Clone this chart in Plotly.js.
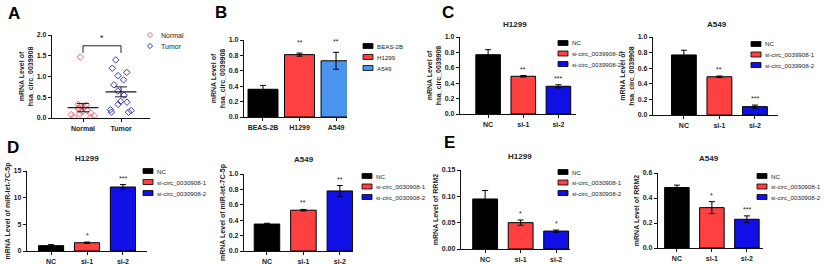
<!DOCTYPE html>
<html><head><meta charset="utf-8">
<script src="https://cdn.plot.ly/plotly-3.0.1.min.js"></script>
<style>html,body{margin:0;padding:0;background:#fff}#chart{width:825px;height:264px}</style>
</head><body><div id="chart"></div>
<script>
// ---------- DATA ----------
const aGroups = ['Normal', 'Tumor'];
const aNormal = [1.47,0.33,0.31,0.28,0.26,0.25,0.22,0.18,0.15,0.12,0.10,0.08,0.05,0.02,0.01];
const aTumor  = [1.40,1.20,1.10,1.02,0.92,0.80,0.65,0.55,0.40,0.38,0.33,0.20,0.18,0.14,0.14];
const aMean = [0.25, 0.63];
const aSem  = [0.10, 0.12];
const aStar = '*';

const bCats  = ['BEAS-2B', 'H1299', 'A549'];
const bVals  = [0.36, 0.81, 0.73];
const bErr   = [0.05, 0.02, 0.11];
const bStars = ['', '**', '**'];

const siCats = ['NC', 'si-1', 'si-2'];
const cH1299Vals  = [0.77, 0.49, 0.36];
const cH1299Err   = [0.065, 0.01, 0.02];
const cH1299Stars = ['', '**', '***'];
const cA549Vals   = [0.77, 0.49, 0.107];
const cA549Err    = [0.06, 0.01, 0.02];
const cA549Stars  = ['', '**', '***'];

const dH1299Vals  = [1.0, 1.55, 12.0];
const dH1299Err   = [0.2, 0.12, 0.45];
const dH1299Stars = ['', '*', '***'];
const dA549Vals   = [0.35, 0.53, 0.78];
const dA549Err    = [0.01, 0.01, 0.07];
const dA549Stars  = ['', '**', '**'];

const eH1299Vals  = [0.095, 0.050, 0.034];
const eH1299Err   = [0.016, 0.005, 0.002];
const eH1299Stars = ['', '*', '*'];
const eA549Vals   = [0.484, 0.323, 0.23];
const eA549Err    = [0.019, 0.048, 0.027];
const eA549Stars  = ['', '*', '***'];

const bLegend  = ['BEAS-2B', 'H1299', 'A549'];
const cLegend  = ['NC', 'si-circ_0039908-1', 'si-circ_0039908-2'];
const deLegend = ['NC', 'si-circ_0030908-1', 'si-circ_0030908-2'];

// ---------- STYLE ----------
const W = 825, H = 264;
const F = 'Liberation Sans, Arial, sans-serif';
const BLACK = '#000000', RED = '#ff4040', LBLUE = '#4a94ee', BLUE = '#1010e6';
const bColors  = [BLACK, RED, LBLUE];
const siColors = [BLACK, RED, BLUE];
const normCol = '#e86a72', tumCol = '#3838b4';
const LEGSIZE = 6.2;

const px = x => x / W;
const py = y => 1 - y / H;

const layout = {
  width: W, height: H, margin: {l:0, r:0, t:0, b:0},
  paper_bgcolor: '#fff', plot_bgcolor: 'rgba(0,0,0,0)',
  showlegend: false, font: {family: F, color: '#222'},
  shapes: [], annotations: []
};
const traces = [];

const baseAx = {
  showline: true, linecolor: '#111', linewidth: 1.2, ticks: 'outside', ticklen: 3,
  tickwidth: 1, tickcolor: '#111', showgrid: false, zeroline: false, fixedrange: true,
  tickfont: {family: F, size: 7, color: '#222', weight: 'bold'}
};

function addAxes(n, p) {
  const xs = n === 1 ? '' : String(n);
  layout['xaxis' + xs] = Object.assign({}, baseAx, {
    domain: [px(p.x0), px(p.x1)], range: p.xr, anchor: 'y' + xs,
    type: p.linearX ? 'linear' : 'category'
  }, p.linearX ? {tickvals: [0, 1], ticktext: aGroups} : {});
  layout['yaxis' + xs] = Object.assign({}, baseAx, {
    domain: [py(p.y0), py(p.y1)], range: p.yr, anchor: 'x' + xs,
    dtick: p.dtick, tickformat: p.fmt,
    title: {text: p.title, font: {family: F, size: 7, color: '#222', weight: 'bold'}, standoff: 2}
  });
  return {x: 'x' + xs, y: 'y' + xs};
}

function barPanel(n, p, cats, vals, errs, colors, stars, starShift) {
  const ax = addAxes(n, p);
  traces.push({
    type: 'bar', x: cats, y: vals, xaxis: ax.x, yaxis: ax.y, width: p.bw || 0.7,
    marker: {color: colors, line: {color: '#000', width: 1}},
    error_y: {type: 'data', array: errs, visible: true, color: '#000', thickness: 1, width: 3},
    cliponaxis: false, hoverinfo: 'skip'
  });
  cats.forEach((c, i) => {
    if (!stars[i]) return;
    layout.annotations.push({
      xref: ax.x, yref: ax.y, x: c, y: vals[i] + errs[i], text: stars[i], showarrow: false,
      yanchor: 'bottom', yshift: starShift, font: {family: F, size: 7, color: '#222'}
    });
  });
  if (p.head) layout.annotations.push({
    xref: 'paper', yref: 'paper', x: px(p.head[0]), y: py(p.head[1]), text: p.head[2],
    showarrow: false, xanchor: 'center', yanchor: 'middle',
    font: {family: F, size: 8, color: '#222', weight: 'bold'}
  });
}

function boxLegend(left, top, dy, labels, colors) {
  labels.forEach((lab, i) => {
    const cy = top + i * dy;
    layout.shapes.push({type: 'rect', xref: 'paper', yref: 'paper',
      x0: px(left), x1: px(left + 10), y0: py(cy + 2.5), y1: py(cy - 2.5),
      fillcolor: colors[i], line: {color: '#000', width: 0.8}});
    layout.annotations.push({xref: 'paper', yref: 'paper', x: px(left + 12), y: py(cy),
      text: lab, showarrow: false, xanchor: 'left', yanchor: 'middle',
      font: {family: F, size: LEGSIZE, color: '#222'}});
  });
}

// ---------- PANEL A ----------
const axA = addAxes(1, {x0: 52, x1: 150, y0: 118, y1: 35, yr: [0, 2], xr: [-0.816, 1.763],
  dtick: 0.5, fmt: '.1f', linearX: true, title: 'mRNA Level of<br>hsa_circ_0039908'});
[[aNormal, normCol, 0], [aTumor, tumCol, 1]].forEach(([vals, col, x]) => {
  traces.push({type: 'box', y: vals, x0: x, xaxis: axA.x, yaxis: axA.y, boxpoints: 'all',
    jitter: 1, pointpos: 0, width: 0.8, line: {width: 0}, fillcolor: 'rgba(0,0,0,0)',
    marker: {symbol: 'diamond-open', size: 5, color: col, line: {width: 1}},
    hoverinfo: 'skip'});
});
traces.push({type: 'scatter', mode: 'markers', x: [0, 1], y: aMean, xaxis: axA.x, yaxis: axA.y,
  marker: {symbol: 'line-ew', size: 22, line: {width: 1.3, color: '#1a1a3a'}},
  error_y: {type: 'data', array: aSem, color: '#1a1a3a', thickness: 1, width: 6},
  hoverinfo: 'skip', cliponaxis: false});
// significance bracket
layout.shapes.push({type: 'path', xref: axA.x, yref: axA.y,
  path: 'M0,1.57 L0,1.74 L1,1.74 L1,1.57', line: {color: '#222', width: 1}});
layout.annotations.push({xref: axA.x, yref: axA.y, x: 0.5, y: 1.74, text: aStar, showarrow: false,
  yanchor: 'bottom', yshift: 1, font: {family: F, size: 9, color: '#222'}});
// legend A
[[aGroups[0], normCol], [aGroups[1], tumCol]].forEach(([lab, col], i) => {
  const cx = 150, cy = 35 + i * 11, r = 2.6;
  layout.shapes.push({type: 'path', xref: 'paper', yref: 'paper',
    path: `M${px(cx - r)},${py(cy)} L${px(cx)},${py(cy - r)} L${px(cx + r)},${py(cy)} L${px(cx)},${py(cy + r)} Z`,
    line: {color: col, width: 1}});
  layout.annotations.push({xref: 'paper', yref: 'paper', x: px(cx + 9), y: py(cy), text: lab,
    showarrow: false, xanchor: 'left', yanchor: 'middle', font: {family: F, size: 7, color: '#222'}});
});

// ---------- PANEL B ----------
barPanel(2, {x0: 244, x1: 347, y0: 117, y1: 40, yr: [0, 1], xr: [-0.52, 2.3], dtick: 0.2, fmt: '.1f',
  bw: 0.82, title: 'mRNA Level of<br>hsa_circ_0039908'}, bCats, bVals, bErr, bColors, bStars, 5);
boxLegend(363, 46, 11, bLegend, bColors);

// ---------- PANEL C ----------
barPanel(3, {x0: 460, x1: 576, y0: 114, y1: 37, yr: [0, 1], xr: [-0.8, 2.5], dtick: 0.2, fmt: '.1f',
  title: 'mRNA Level of<br>hsa_circ_0039908', head: [515, 24, 'H1299']},
  siCats, cH1299Vals, cH1299Err, siColors, cH1299Stars, 1);
boxLegend(558, 43, 10.5, cLegend, siColors);
barPanel(4, {x0: 653, x1: 778, y0: 115, y1: 37, yr: [0, 1], xr: [-0.87, 2.65], dtick: 0.2, fmt: '.1f',
  title: 'mRNA Level of<br>hsa_circ_0039908', head: [717, 24, 'A549']},
  siCats, cA549Vals, cA549Err, siColors, cA549Stars, 1);
boxLegend(751, 44, 10.5, cLegend, siColors);

// ---------- PANEL D ----------
barPanel(5, {x0: 27, x1: 147, y0: 251, y1: 171, yr: [0, 15], xr: [-0.67, 2.67], dtick: 5, fmt: 'd',
  title: 'mRNA Level of miR-let-7C-5p', head: [87, 158, 'H1299']},
  siCats, dH1299Vals, dH1299Err, siColors, dH1299Stars, 1);
boxLegend(143, 171, 11, deLegend, siColors);
barPanel(6, {x0: 244, x1: 353, y0: 251, y1: 174, yr: [0, 1], xr: [-0.63, 2.36], dtick: 0.2, fmt: '.1f',
  title: 'mRNA Level of miR-let-7C-5p', head: [304, 159, 'A549']},
  siCats, dA549Vals, dA549Err, siColors, dA549Stars, 1);
boxLegend(362, 176, 10.5, deLegend, siColors);

// ---------- PANEL E ----------
barPanel(7, {x0: 461, x1: 570, y0: 249, y1: 170, yr: [0, 0.15], xr: [-0.68, 2.39], dtick: 0.05, fmt: '.2f',
  title: 'mRNA Level of RRM2', head: [520, 156, 'H1299']},
  siCats, eH1299Vals, eH1299Err, siColors, eH1299Stars, 1);
boxLegend(558, 172, 10.5, deLegend, siColors);
barPanel(8, {x0: 658, x1: 763, y0: 248, y1: 173, yr: [0, 0.6], xr: [-0.54, 2.46], dtick: 0.2, fmt: '.1f',
  title: 'mRNA Level of RRM2', head: [709, 158, 'A549']},
  siCats, eA549Vals, eA549Err, siColors, eA549Stars, 1);
boxLegend(757, 176, 10.5, deLegend, siColors);

// ---------- PANEL LETTERS ----------
[['A', 14, 14], ['B', 221, 13], ['C', 448, 13], ['D', 13, 147], ['E', 450, 142]].forEach(([t, x, y]) => {
  layout.annotations.push({xref: 'paper', yref: 'paper', x: px(x), y: py(y), text: t, showarrow: false,
    xanchor: 'center', yanchor: 'middle', font: {family: F, size: 17, color: '#000', weight: 'bold'}});
});

Plotly.newPlot('chart', traces, layout, {displayModeBar: false, staticPlot: true});
</script></body></html>
